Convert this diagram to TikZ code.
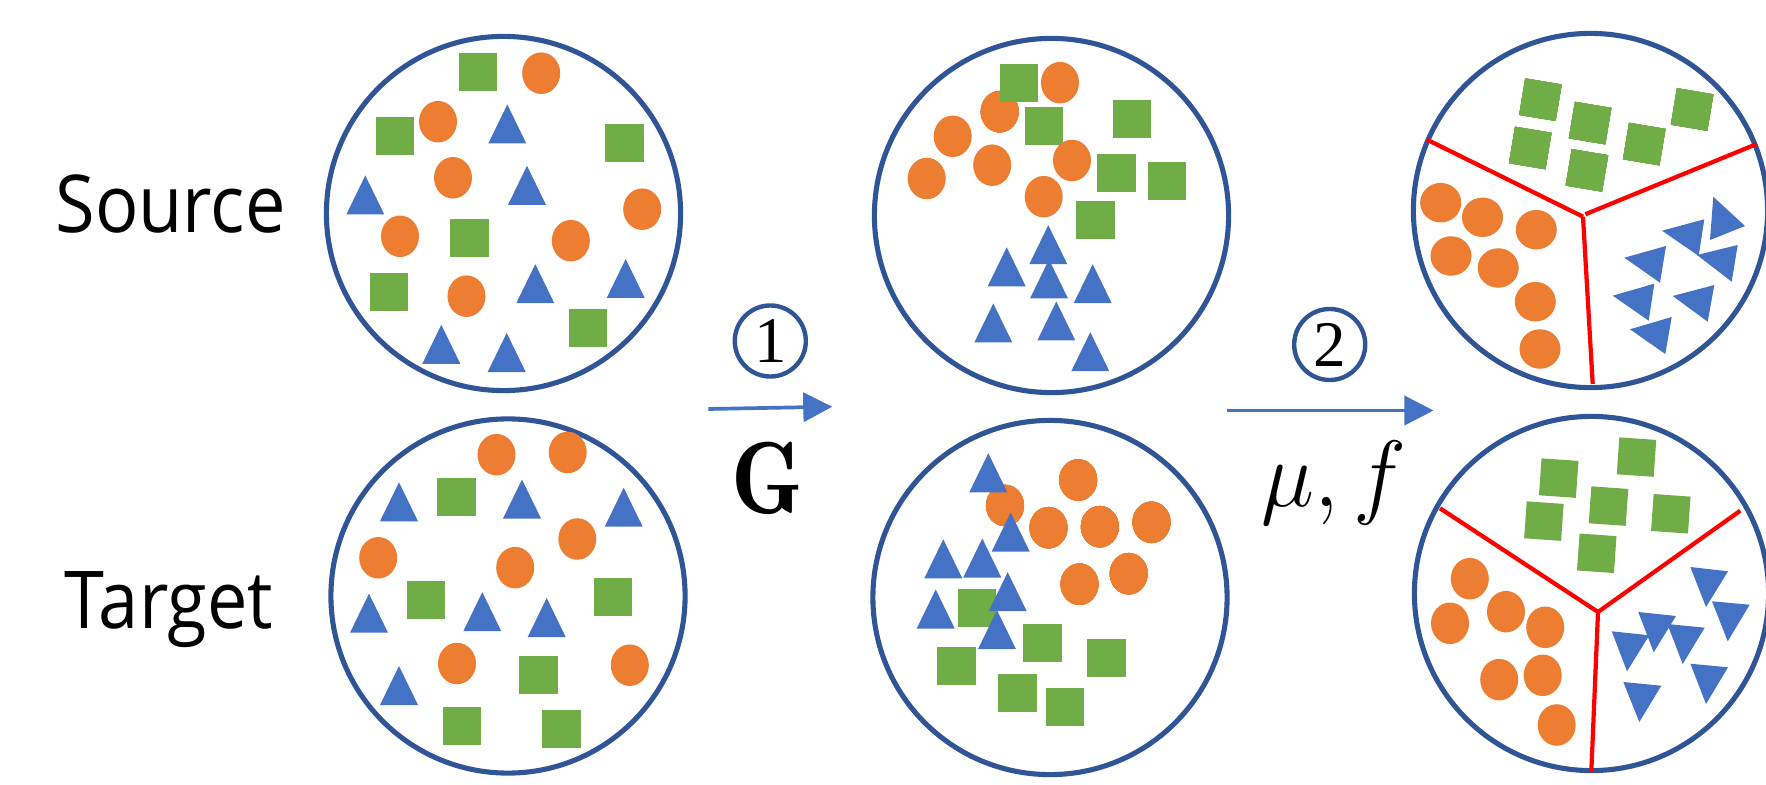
\RequirePackage{fix-cm}
\documentclass[tikz,border=0pt]{standalone}
\usepackage{fontspec}
\newfontfamily\lblfont{Open Sans}
\newfontfamily\numfont{Liberation Serif}
\usetikzlibrary{arrows.meta,shapes.geometric}
\definecolor{cdark}{HTML}{2F5597}
\definecolor{corange}{HTML}{ED7D31}
\definecolor{cgreen}{HTML}{70AD47}
\definecolor{cblue}{HTML}{4472C4}
\definecolor{cred}{HTML}{FF0000}
\newcommand\uptri[2]{\fill[cblue] (#1-19,#2+19.5) -- (#1,#2-19.5) -- (#1+19,#2+19.5) -- cycle;}
\tikzset{
  dom/.style={circle, draw=cdark, line width=1.45pt, minimum size=3.54cm, inner sep=0pt},
  sq/.style={fill=cgreen, minimum size=0.38cm, inner sep=0pt, outer sep=0pt},
  rsq/.style={fill=cgreen, minimum size=0.37cm, inner sep=0pt, outer sep=0pt},
  dot/.style={ellipse, fill=corange, minimum width=0.38cm, minimum height=0.415cm, inner sep=0pt},
  rdot/.style={ellipse, fill=corange, minimum width=0.41cm, minimum height=0.395cm, inner sep=0pt},
  rtri/.style={fill=cblue},
  cut/.style={draw=cred, line width=1.2pt},
  flow/.style={draw=cblue, line width=1.05pt, -{Triangle[length=0.29cm,width=0.29cm]}},
  num/.style={circle, draw=cdark, line width=1.25pt, minimum size=0.71cm, inner sep=0pt, font=\numfont\fontsize{18.5pt}{20pt}\selectfont},
  lbl/.style={anchor=base, inner sep=0pt, font=\lblfont\fontsize{19.9pt}{24pt}\selectfont},
}
\begin{document}
\begin{tikzpicture}[x=0.01cm,y=-0.01cm]
\useasboundingbox (0,0) rectangle (1766,785);
% ---------- domain circles
\node[dom] (src) at (503.5,213.5) {};
\node[dom] (tgt) at (508,596) {};
\node[dom] (gs) at (1051.5,215.5) {};
\node[dom] (gt) at (1050,597.5) {};
\node[dom] (cs) at (1590.5,210.5) {};
\node[dom] (ct) at (1591.5,593.5) {};
% ---------- labels
\node[lbl] (srcl) at (170.5,233) {\scalebox{1.03}[1.14]{Source}};
\node[lbl] (tgtl) at (169,628) {\scalebox{1.03}[1.14]{Target}};
% ---------- source
\foreach \x/\y in {478/72,395/135.8,624.5/142.8,469.5/237.8,389/291.8,588/328.3}
  \node[sq] at (\x,\y) {};
\foreach \x/\y in {541.2/73.2,438/121.7,453/177.8,642.2/209.2,400/236.3,570.8/240.7,466.5/296.2}
  \node[dot] at (\x,\y) {};
\foreach \x/\y in {507.3/124,527/185.3,365.3/195,625.7/278.5,535.3/283.7,441.3/344.3,506.7/352.5}
  \uptri{\x}{\y}
% ---------- target
\foreach \x/\y in {456.5/496.8,613/596.8,426.3/599.8,538.5/674.8,462/726,561.5/728.8}
  \node[sq] at (\x,\y) {};
\foreach \x/\y in {496.5/454.7,567.7/452.5,577.3/539,378.2/557.8,515.2/567.7,457/663.5,629.8/665.2}
  \node[dot] at (\x,\y) {};
\foreach \x/\y in {399/501.8,522/499,623.7/507.2,369/613.2,482.3/611.7,546.7/617.5,399/685.5}
  \uptri{\x}{\y}
% ---------- generated source
\node[dot] at (999.7,111.7) {};
\foreach \x/\y in {1019/83.3,1044/126.3,1132/118.8,1116.5/173,1167/181,1095.5/219.8}
  \node[sq] at (\x,\y) {};
\foreach \x/\y in {1060/82.7,952.7/136.3,992.2/165.2,1072/160.5,926.7/178.5,1043.7/196.7}
  \node[dot] at (\x,\y) {};
\foreach \x/\y in {1048.3/244.7,1006.7/266.8,1049/279,1092.7/283.7,993.3/323,1056.3/321,1090.3/351.7}
  \uptri{\x}{\y}
% ---------- generated target
\foreach \x/\y in {1005/505.5,1078.2/480,1048.5/527.7,1099.8/526.7,1151.5/522.3,1079.5/584.2,1128.7/573.7}
  \node[dot] at (\x,\y) {};
\foreach \x/\y in {977/607.8,1042.5/642.8,1106.5/657.8,956.5/665.8,1017.5/693,1065/706.8}
  \node[sq] at (\x,\y) {};
\foreach \x/\y in {988.3/472.8,1010.7/532,943.3/558.8,982.3/558,1007.7/591.7,935.7/609,997/629.7}
  \uptri{\x}{\y}
% ---------- classified source
\foreach \x/\y in {1540.4/99.7,1590.1/123.1,1692.1/109.5,1530.25/148,1586.9/170.4,1644.25/144.1}
  \node[rsq, rotate=-9.5] at (\x,\y) {};
\foreach \x/\y in {1440.7/202.7,1482.5/217.3,1536.3/229.7,1451/256,1498.2/268,1535.3/301.7,1540/349}
  \node[rdot] at (\x,\y) {};
\fill[rtri] (1713.3,196.7) -- (1745,226) -- (1710,240) -- cycle;
\fill[rtri] (1662,230.7) -- (1704.3,219.3) -- (1698.7,256) -- cycle;
\fill[rtri] (1697,255) -- (1737.7,245) -- (1731.7,281.7) -- cycle;
\fill[rtri] (1624.3,257.7) -- (1666,246) -- (1660,282.7) -- cycle;
\fill[rtri] (1612.7,295.7) -- (1654.3,283.7) -- (1648.7,320.7) -- cycle;
\fill[rtri] (1672.7,296) -- (1714.3,285) -- (1707.7,321.7) -- cycle;
\fill[rtri] (1630,329.3) -- (1671.7,317) -- (1665.3,354) -- cycle;
\coordinate (a1) at (1426.7,139.5);
\coordinate (a2) at (1756.7,144);
\coordinate (a3) at (1592.7,384);
\coordinate (ao) at (1583,216.7);
\draw[cut] (a1) -- (ao);
\draw[cut] (1585.3,214.3) -- (a2);
\draw[cut] (ao) -- (a3);
% ---------- classified target
\foreach \x/\y in {1558.7/478.1,1636.5/457.1,1543.9/521.1,1608.5/506.1,1670.8/513.8,1596.75/553.3}
  \node[rsq, rotate=-4] at (\x,\y) {};
\foreach \x/\y in {1469.8/578.7,1450/623.3,1506/611.7,1545.2/627.3,1499.2/679.7,1542.7/675.3,1556.7/725}
  \node[dot] at (\x,\y) {};
\fill[rtri] (1690.3,567) -- (1728,571.3) -- (1706,607) -- cycle;
\fill[rtri] (1712,601.3) -- (1749.7,604.7) -- (1727.7,641.3) -- cycle;
\fill[rtri] (1611.7,631.3) -- (1649.3,635.3) -- (1627,671.3) -- cycle;
\fill[rtri] (1638.3,612) -- (1676,616) -- (1653.7,652.3) -- cycle;
\fill[rtri] (1667.3,624) -- (1704.7,627.7) -- (1682.7,664) -- cycle;
\fill[rtri] (1690.3,663.7) -- (1728,667.3) -- (1706,704) -- cycle;
\fill[rtri] (1623.3,682) -- (1661.3,685.7) -- (1639.3,722) -- cycle;
\coordinate (b1) at (1440,508.3);
\coordinate (b2) at (1740.3,510.7);
\coordinate (b3) at (1591.3,772);
\coordinate (bo) at (1598,612);
\draw[cut] (b1) -- (bo) -- (b2);
\draw[cut] (bo) -- (b3);
% ---------- steps
\coordinate (f1s) at (708.3,409);
\coordinate (f1e) at (832.3,406.7);
\coordinate (f2s) at (1227.3,410.5);
\coordinate (f2e) at (1433.5,410.5);
\draw[flow] (f1s) -- (f1e);
\draw[flow] (f2s) -- (f2e);
\node[num] (n1) at (770.3,341) {1};
\node[num] (n2) at (1329.7,344.5) {2};
\node[anchor=base, inner sep=0pt] (glab) at (767.5,513)
  {\scalebox{1}[1.12]{\fontsize{26pt}{28pt}\selectfont$\mathbf{G}$}};
\node[anchor=base, inner sep=0pt] (mlab) at (1334,506)
  {\scalebox{1}[1.05]{\fontsize{25.5pt}{28pt}\selectfont$\mu,f$}};
\end{tikzpicture}
\end{document}
